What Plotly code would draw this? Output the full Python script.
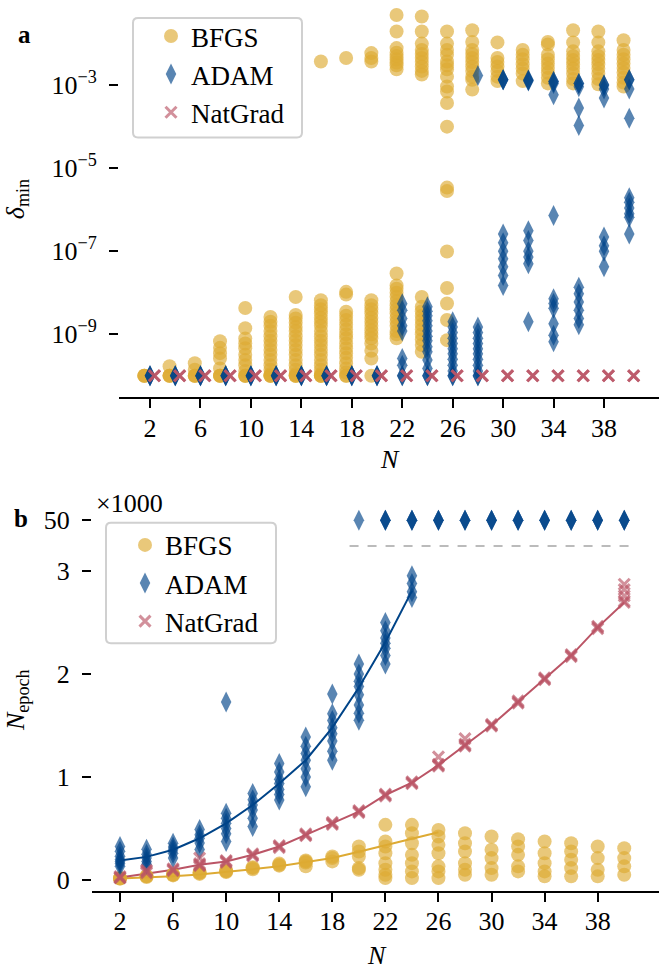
import plotly.graph_objects as go

# ---------------- data ----------------
N = [2, 4, 6, 8, 10, 12, 14, 16, 18, 20, 22, 24, 26, 28, 30, 32, 34, 36, 38, 40]
x_ticks = [2, 6, 10, 14, 18, 22, 26, 30, 34, 38]
optimizers = ["BFGS", "ADAM", "NatGrad"]

# panel a: delta_min per N (many runs per N)
delta_bfgs = [
    [1e-10, 1e-10, 1e-10],
    [1e-10, 1e-10, 1e-10, 1.7e-10],
    [1e-10, 1e-10, 1e-10, 1.4e-10, 2.0e-10],
    [1e-10, 1e-10, 1e-10, 1.5e-10, 2.6e-10, 3.5e-10, 4.7e-10, 6.8e-10],
    [1e-10, 1e-10, 1e-10, 1.3e-10, 1.8e-10, 2.4e-10, 3.2e-10, 4.6e-10, 6e-10, 7.9e-10, 1.4e-9, 4.3e-9],
    [1e-10, 1e-10, 1e-10, 1.1e-10, 1.4e-10, 1.8e-10, 2.4e-10, 3.2e-10, 4.2e-10, 5.5e-10, 7e-10, 9e-10,
     1.2e-9, 1.6e-9, 2.0e-9, 2.6e-9],
    [1e-10, 1e-10, 1e-10, 1.1e-10, 1.4e-10, 1.8e-10, 2.4e-10, 3.2e-10, 4.2e-10, 5.5e-10, 7e-10, 9e-10,
     1.2e-9, 1.5e-9, 1.9e-9, 2.4e-9, 2.9e-9, 7.9e-9],
    [1e-10, 1e-10, 1e-10, 1.1e-10, 1.4e-10, 1.8e-10, 2.4e-10, 3.2e-10, 4.2e-10, 5.5e-10, 7e-10, 9e-10,
     1.2e-9, 1.6e-9, 2e-9, 2.5e-9, 3.2e-9, 4e-9, 5e-9, 6.6e-9, 3.7e-3],
    [1e-10, 1e-10, 1.2e-10, 1.5e-10, 2e-10, 2.7e-10, 3.5e-10, 4.6e-10, 6e-10, 8e-10, 1e-9, 1.3e-9,
     1.7e-9, 2.2e-9, 2.8e-9, 3.5e-9, 9e-9, 1.05e-8, 4.5e-3],
    [1e-10, 2.6e-10, 4e-10, 6e-10, 8e-10, 1e-9, 1.25e-9, 1.6e-9, 2e-9, 2.5e-9, 3.2e-9, 4e-9, 5e-9, 6.6e-9,
     3.7e-3, 4.5e-3, 5.9e-3],
    [8e-10, 1e-9, 1.2e-9, 1.6e-9, 2e-9, 2.5e-9, 3.2e-9, 4e-9, 5e-9, 6.3e-9, 8e-9, 1e-8, 1.25e-8, 1.5e-8,
     2.9e-8, 2.4e-3, 3e-3, 3.5e-3, 4.2e-3, 5e-3, 6e-3, 7.8e-3, 1.95e-2, 4.9e-2],
    [3.8e-10, 5.5e-10, 7.5e-10, 1e-9, 1.3e-9, 1.7e-9, 2.2e-9, 2.8e-9, 3.6e-9, 4.6e-9, 7.9e-9,
     1.8e-3, 2.2e-3, 2.8e-3, 3.6e-3, 4.5e-3, 5.6e-3, 7e-3, 1.0e-2, 1.95e-2, 4.5e-2],
    [7.2e-10, 2.2e-9, 5.5e-9, 1.3e-8, 9.8e-8, 2.8e-6, 3.4e-6, 1.0e-4, 3.7e-4, 7e-4, 9.3e-4, 1.6e-3,
     2.4e-3, 3e-3, 3.7e-3, 5.4e-3, 7e-3, 1.0e-2, 1.95e-2],
    [7.8e-4, 1.35e-3, 1.6e-3, 2.2e-3, 2.8e-3, 3.6e-3, 4.5e-3, 5.6e-3, 7e-3, 1.1e-2, 2.1e-2],
    [1.25e-3, 1.6e-3, 2.2e-3, 2.8e-3, 3.6e-3, 4.5e-3, 1.07e-2],
    [1.25e-3, 1.9e-3, 2.5e-3, 3.2e-3, 4.2e-3, 5.4e-3, 7e-3],
    [1.1e-3, 1.5e-3, 2e-3, 2.6e-3, 3.3e-3, 4.2e-3, 5.4e-3, 9.5e-3, 1.1e-2],
    [1.1e-3, 1.4e-3, 1.9e-3, 2.5e-3, 3.2e-3, 4e-3, 5e-3, 6.5e-3, 1.07e-2, 2.1e-2],
    [1.05e-3, 1.4e-3, 1.9e-3, 2.5e-3, 3.2e-3, 4e-3, 5e-3, 6.5e-3, 1.07e-2, 1.95e-2],
    [9.3e-4, 1.15e-3, 1.5e-3, 2e-3, 2.6e-3, 3.3e-3, 4.2e-3, 5.4e-3, 7e-3, 1.2e-2],
]
delta_adam = [
    [1e-10, 1e-10, 1e-10], [1e-10, 1e-10, 1e-10], [1e-10, 1e-10, 1e-10], [1e-10, 1e-10, 1e-10],
    [1e-10, 1e-10, 1e-10], [1e-10, 1e-10, 1e-10], [1e-10, 1e-10, 1e-10], [1e-10, 1e-10, 1e-10],
    [1e-10, 1e-10, 1e-10], [1e-10, 1e-10, 1e-10],
    [1e-10, 1e-10, 1.8e-10, 2.6e-10, 1.2e-9, 1.6e-9, 2.4e-9, 3.8e-9, 5.4e-9],
    [1e-10, 1e-10, 1.5e-10, 2.4e-10, 3.8e-10, 5e-10, 7e-10, 9e-10, 1.2e-9, 1.6e-9, 2.1e-9, 2.8e-9,
     3.6e-9, 4.6e-9],
    [1e-10, 1e-10, 1.3e-10, 1.8e-10, 2.5e-10, 3.4e-10, 4.5e-10, 6e-10, 8e-10, 1.1e-9, 1.5e-9, 2e-9],
    [1e-10, 1e-10, 1.3e-10, 1.8e-10, 2.5e-10, 3.4e-10, 4.5e-10, 6e-10, 8e-10, 1.1e-9, 1.5e-9, 1.7e-3],
    [1.5e-8, 2.6e-8, 4.2e-8, 6.6e-8, 1.0e-7, 1.6e-7, 2.6e-7, 1.35e-3, 1.35e-3, 1.35e-3],
    [2e-9, 5e-8, 7.2e-8, 1.0e-7, 1.8e-7, 3.1e-7, 1.35e-3, 1.3e-3, 1.25e-3],
    [6.6e-10, 9.5e-10, 1.8e-9, 4.2e-9, 5.5e-9, 7.2e-9, 7.2e-7, 5.9e-4, 1.1e-3, 1.23e-3, 1.23e-3],
    [1.7e-9, 2.4e-9, 3.8e-9, 6e-9, 9.5e-9, 1.35e-8, 1.07e-4, 2.8e-4, 9.1e-4, 1.1e-3, 1.1e-3],
    [4.2e-8, 1.0e-7, 1.35e-7, 2.2e-7, 4.9e-4, 8.1e-4, 1.0e-3, 1.0e-3],
    [2.6e-7, 6.6e-7, 8e-7, 1.1e-6, 1.5e-6, 1.95e-6, 1.6e-4, 8.1e-4, 1.35e-3, 1.35e-3],
]
delta_natgrad = [[1e-10, 1e-10, 1e-10] for _ in N]

# panel b: number of epochs per N (runs capped at 50000 epochs)
epoch_bfgs = [
    [15, 15, 20], [30, 36, 40], [45, 52, 55], [60, 68, 75], [78, 84, 90], [105, 116, 125],
    [140, 149, 160], [133, 170, 181, 190], [181, 213, 229], [100, 116, 229, 277, 326],
    [19, 52, 100, 164, 261, 326, 374, 536], [19, 84, 164, 245, 358, 455, 536],
    [19, 84, 133, 261, 342, 423, 487], [52, 100, 164, 277, 358, 455],
    [52, 116, 213, 294, 423], [84, 133, 245, 326, 397], [36, 84, 164, 261, 374],
    [36, 116, 197, 277, 358], [36, 100, 213, 326], [52, 133, 213, 310],
]
epoch_adam = [
    [133, 160, 181, 200, 230, 279, 326], [153, 180, 213, 250, 298], [213, 260, 294, 320, 358],
    [296, 360, 406, 440, 490], [374, 450, 500, 551, 600, 648, 1728], [519, 600, 680, 729, 780, 841],
    [778, 830, 880, 938, 980, 1050, 1131], [906, 1000, 1080, 1164, 1230, 1300, 1390],
    [1164, 1250, 1350, 1420, 1480, 1550, 1615, 1808],
    [1551, 1620, 1700, 1800, 1880, 1930, 2000, 2099, 50000],
    [2099, 2180, 2250, 2300, 2350, 2420, 2502, 50000, 50000, 50000],
    [2744, 2800, 2880, 2954, 50000, 50000, 50000],
    [50000, 50000, 50000], [50000, 50000, 50000], [50000, 50000, 50000], [50000, 50000, 50000],
    [50000, 50000, 50000], [50000, 50000, 50000], [50000, 50000, 50000], [50000, 50000, 50000],
]
epoch_natgrad = [
    [20, 25, 35], [70, 84, 95], [90, 100, 110], [140, 149, 160, 213], [170, 181, 190],
    [235, 245, 255], [315, 326, 335], [430, 439, 450], [540, 551, 560], [655, 664, 675],
    [815, 826, 835], [935, 945, 955], [1105, 1116, 1125, 1196], [1300, 1309, 1320, 1373],
    [1495, 1503, 1512], [1718, 1728, 1740], [1945, 1954, 1965], [2170, 2180, 2190],
    [2440, 2454, 2465], [2695, 2710, 2760, 2820, 2872],
]
epoch_cap = 50000

# fitted trend curves
fit_N_bfgs = N[:13]
fit_bfgs = [15, 25, 38, 55, 78, 105, 135, 172, 215, 275, 337, 400, 465]
fit_N_adam = N[:12]
fit_adam = [190, 225, 294, 406, 551, 729, 938, 1164, 1480, 1870, 2310, 2808]
fit_N_natgrad = N
fit_natgrad = [25, 60, 100, 149, 181, 245, 326, 439, 551, 664, 826, 945, 1116, 1309, 1503,
               1728, 1954, 2180, 2454, 2695]

# ---------------- style ----------------
W, H = 659, 969
FONT = "Liberation Serif"
YEL, BLU, RED = "#DDAA33", "#004488", "#BB5566"
ALPHA = 0.65
offsets_a = {"BFGS": -0.45, "ADAM": 0.0, "NatGrad": 0.35}


def fx(p):
    return p / W


def fy(p):
    return 1 - p / H


def flat(lists, off=0.0, keep=lambda v: True):
    xs, ys = [], []
    for n, vals in zip(N, lists):
        for v in vals:
            if keep(v):
                xs.append(n + off)
                ys.append(v)
    return xs, ys


def rounded_box(x0, y0, x1, y1, r=5):
    """rounded rectangle path in paper coordinates from pixel corners"""
    X = lambda p: "%.5f" % fx(p)
    Y = lambda p: "%.5f" % fy(p)
    return (f"M{X(x0 + r)},{Y(y0)} L{X(x1 - r)},{Y(y0)} Q{X(x1)},{Y(y0)} {X(x1)},{Y(y0 + r)} "
            f"L{X(x1)},{Y(y1 - r)} Q{X(x1)},{Y(y1)} {X(x1 - r)},{Y(y1)} "
            f"L{X(x0 + r)},{Y(y1)} Q{X(x0)},{Y(y1)} {X(x0)},{Y(y1 - r)} "
            f"L{X(x0)},{Y(y0 + r)} Q{X(x0)},{Y(y0)} {X(x0 + r)},{Y(y0)} Z")


marker_styles = {
    "BFGS": dict(symbol="circle", size=14, color=YEL, opacity=ALPHA, line=dict(width=0)),
    "ADAM": dict(symbol="diamond-tall", size=15, color=BLU, opacity=ALPHA, line=dict(width=0)),
    "NatGrad": dict(symbol="x-thin", size=11, color=RED, opacity=ALPHA, line=dict(width=3, color=RED)),
}

fig = go.Figure()

# ---- panel a ----
for name, data in zip(optimizers, [delta_bfgs, delta_adam, delta_natgrad]):
    xs, ys = flat(data, offsets_a[name])
    fig.add_trace(go.Scatter(x=xs, y=ys, mode="markers", name=name, marker=marker_styles[name],
                             xaxis="x", yaxis="y", legend="legend", cliponaxis=False))

# ---- panel b ----
for fxs, fys, col in [(fit_N_bfgs, fit_bfgs, YEL), (fit_N_adam, fit_adam, BLU),
                      (fit_N_natgrad, fit_natgrad, RED)]:
    fig.add_trace(go.Scatter(x=fxs, y=fys, mode="lines", line=dict(color=col, width=2),
                             showlegend=False, xaxis="x2", yaxis="y2", hoverinfo="skip"))

for name, data in zip(optimizers, [epoch_bfgs, epoch_adam, epoch_natgrad]):
    xs, ys = flat(data, 0.0, keep=lambda v: v < epoch_cap)
    fig.add_trace(go.Scatter(x=xs, y=ys, mode="markers", name=name, marker=marker_styles[name],
                             xaxis="x2", yaxis="y2", legend="legend2", cliponaxis=False))
xs, ys = flat(epoch_adam, 0.0, keep=lambda v: v >= epoch_cap)
fig.add_trace(go.Scatter(x=xs, y=ys, mode="markers", marker=marker_styles["ADAM"], showlegend=False,
                         xaxis="x2", yaxis="y3", cliponaxis=False))

tickfont = dict(family=FONT, size=26, color="black")
common_x = dict(showline=True, linewidth=2, linecolor="black", ticks="outside", ticklen=9, tickwidth=2,
                tickcolor="black", showgrid=False, zeroline=False, tickvals=x_ticks, tickfont=tickfont,
                ticklabelstandoff=-3)
common_y = dict(showline=False, ticks="outside", ticklen=9, tickwidth=2, tickcolor="black",
                showgrid=False, zeroline=False, tickfont=tickfont, ticklabelstandoff=7)

exps = [-9, -7, -5, -3]
legend_common = dict(xanchor="left", yanchor="top", bgcolor="rgba(0,0,0,0)",
                     bordercolor="rgba(0,0,0,0)", borderwidth=0, font=dict(family=FONT, size=27),
                     itemsizing="trace", itemwidth=30)
fig.update_layout(
    width=W, height=H, margin=dict(l=0, r=0, t=0, b=0),
    paper_bgcolor="white", plot_bgcolor="white",
    font=dict(family=FONT, color="black"),
    xaxis=dict(domain=[fx(119), 1.0], range=[-0.46, 42.36], anchor="y", **common_x),
    yaxis=dict(domain=[fy(399), 1.0], type="log", range=[-10.52, -0.95], anchor="x",
               tickvals=[10.0 ** e for e in exps],
               ticktext=["10<sup>\u2212%d</sup>" % (-e) for e in exps], **common_y),
    xaxis2=dict(domain=[fx(92), 1.0], range=[-0.11, 42.62], anchor="y2", **common_x),
    yaxis2=dict(domain=[fy(894.3), fy(560)], range=[-102.5, 3130.5], anchor="x2",
                tickvals=[0, 1000, 2000, 3000], ticktext=["0", "1", "2", "3"], **common_y),
    yaxis3=dict(domain=[fy(540), fy(505)], range=[49000, 51000], anchor="x2",
                tickvals=[50000], ticktext=["50"], **common_y),
    legend=dict(x=fx(151), y=fy(12), **legend_common),
    legend2=dict(x=fx(125), y=fy(523), **legend_common),
    shapes=[
        dict(type="line", xref="x2", yref="paper", x0=19.3, x1=40.6, y0=fy(548.3), y1=fy(548.3),
             line=dict(color="#BBBBBB", width=2, dash="dash")),
        dict(type="path", xref="paper", yref="paper", path=rounded_box(133, 18, 302, 138),
             fillcolor="white", line=dict(color="#D0D0D0", width=2), layer="above"),
        dict(type="path", xref="paper", yref="paper", path=rounded_box(106, 525, 276, 646),
             fillcolor="white", line=dict(color="#D0D0D0", width=2), layer="above"),
    ],
    showlegend=True,
)

ann = [
    dict(text="<b>a</b>", x=fx(24.5), y=fy(35), size=25, angle=0),
    dict(text="<b>b</b>", x=fx(20.5), y=fy(521), size=25, angle=0),
    dict(text="\u00d71000", x=fx(129), y=fy(506), size=26, angle=0),
    dict(text="<i>N</i>", x=fx(390), y=fy(461), size=26, angle=0),
    dict(text="<i>N</i>", x=fx(377), y=fy(959), size=26, angle=0),
    dict(text="<i>\u03b4</i><sub>min</sub>", x=fx(17), y=fy(200), size=26, angle=-90),
    dict(text="<i>N</i><sub>epoch</sub>", x=fx(17), y=fy(703), size=26, angle=-90),
]
for a in ann:
    fig.add_annotation(text=a["text"], x=a["x"], y=a["y"], xref="paper", yref="paper",
                       showarrow=False, textangle=a["angle"], xanchor="center", yanchor="middle",
                       font=dict(family=FONT, size=a["size"], color="black"))

fig.write_html("out.html", config={"displayModeBar": False},
               post_script="document.body.style.margin='0';")
